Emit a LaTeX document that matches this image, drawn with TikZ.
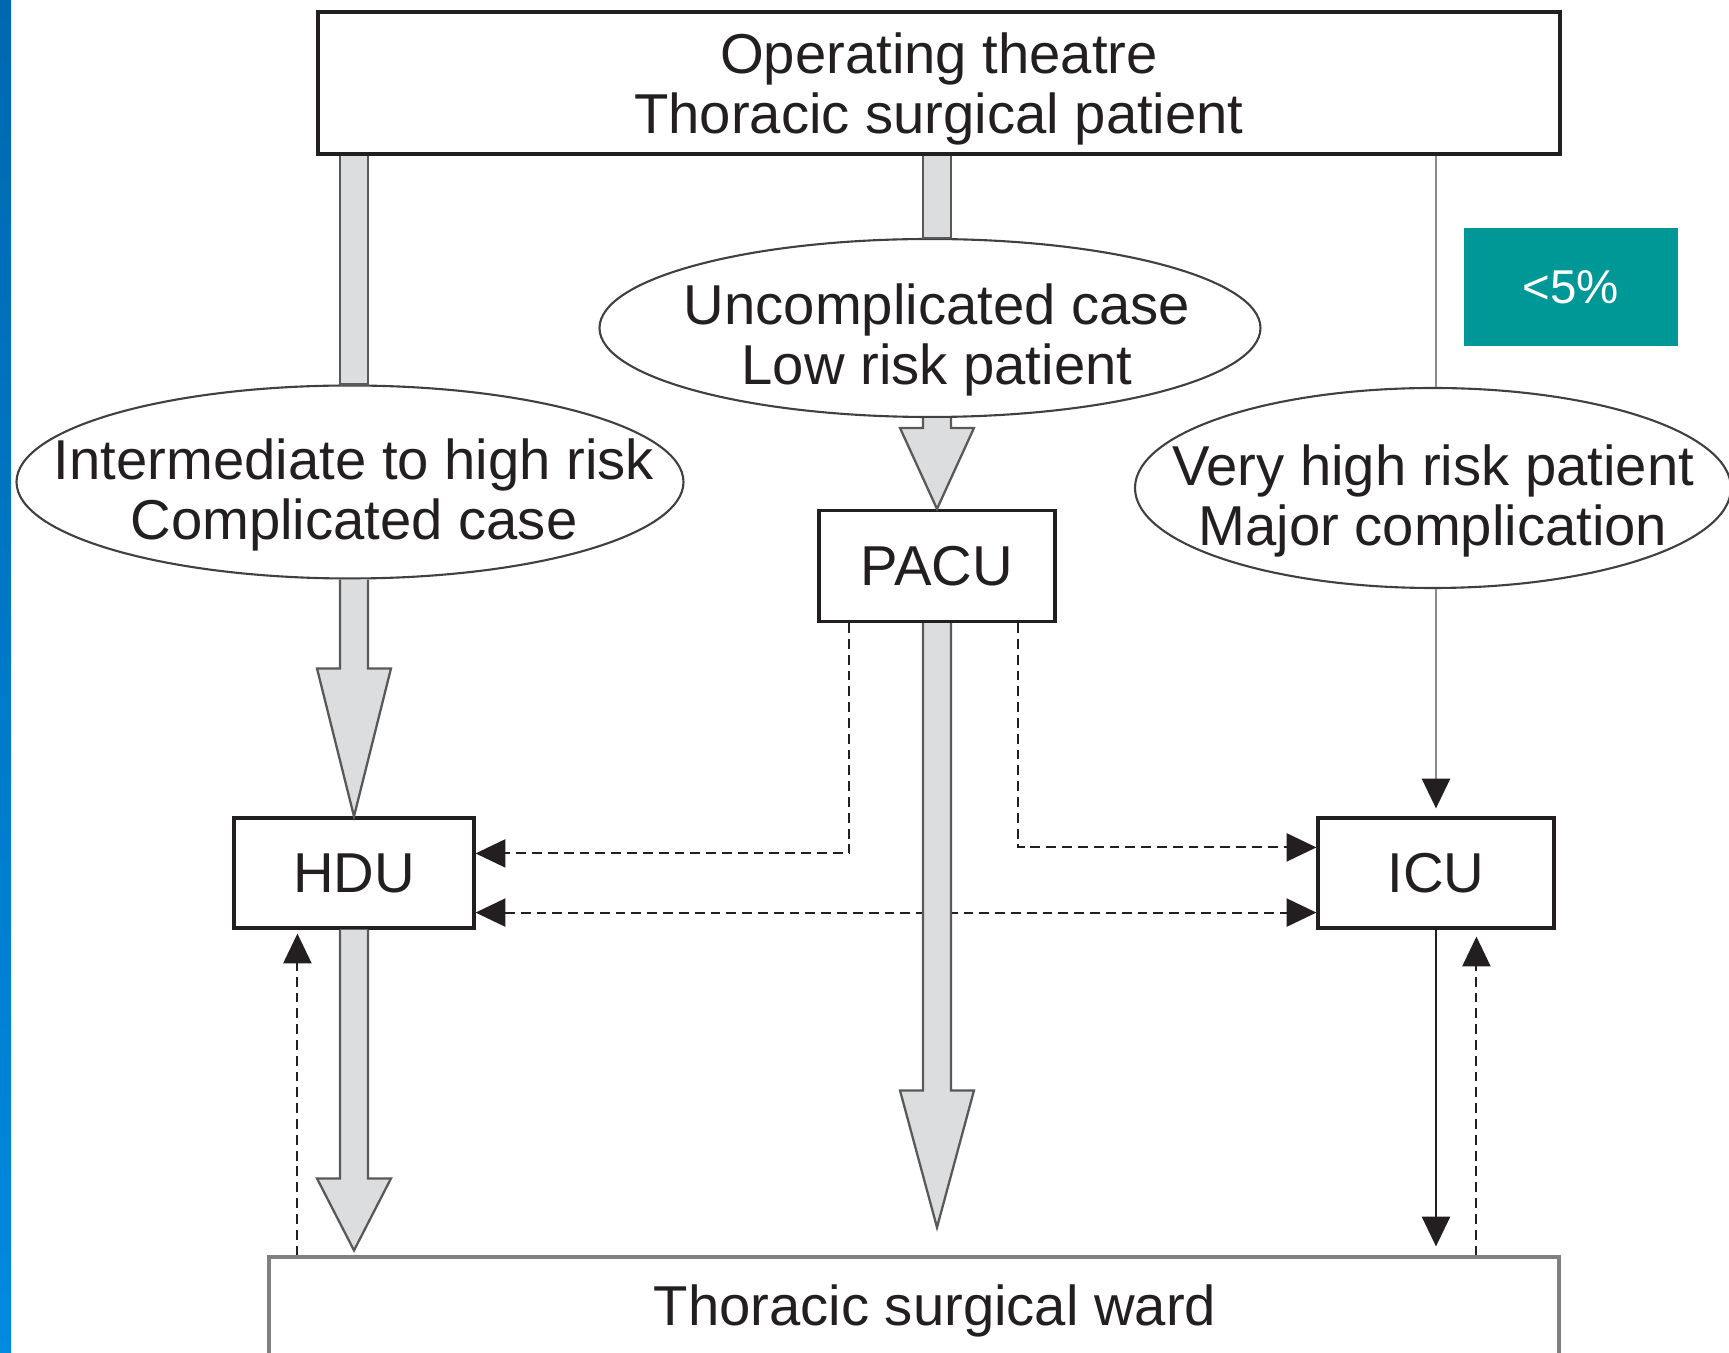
\documentclass[tikz,border=0pt]{standalone}
\usepackage{fontspec}
\setmainfont{Liberation Sans}
\usetikzlibrary{arrows.meta,shapes.geometric,calc}

\definecolor{inkblack}{RGB}{35,31,32}
\definecolor{shaftgray}{RGB}{220,221,222}
\definecolor{tealbox}{RGB}{0,152,150}
\definecolor{barblue}{RGB}{0,104,176}
\definecolor{barbluelow}{RGB}{0,138,224}

\tikzset{
    box/.style={draw=inkblack, line width=0.9pt, inner sep=0pt, align=center},
    oval/.style={ellipse, draw=black!75, line width=0.6pt, inner sep=0pt},
    fat/.style={fill=shaftgray, draw=black!65, line width=0.65pt},
    headarrow/.style={-{Triangle[length=8.5pt, width=8pt, color=inkblack]}},
    dashline/.style={inkblack, line width=0.6pt, dash pattern=on 2.8pt off 1.7pt},
    thinline/.style={black!45, line width=0.7pt},
}

% wide grey arrows, drawn downwards
\newcommand{\fatshaft}[2]{%
    \path[fat] ($(#1)+(-14,0)$) -- ($(#2)+(-14,0)$) -- ($(#2)+(14,0)$) -- ($(#1)+(14,0)$);}
\newcommand{\fatarrow}[3]{%
    \path[fat] ($(#1)+(-14,0)$) -- ($(#2)+(-14,-#3)$) -- ($(#2)+(-37,-#3)$) -- (#2)
        -- ($(#2)+(37,-#3)$) -- ($(#2)+(14,-#3)$) -- ($(#1)+(14,0)$);}

\begin{document}
\begin{tikzpicture}[x=0.1mm, y=-0.1mm, font=\fontsize{16}{17}\selectfont, text=inkblack]
    \useasboundingbox (0,0) rectangle (1729,1353);
    \shade[top color=barblue, bottom color=barbluelow] (0,0) rectangle (11,1353);

    \node[box, minimum width=124.2mm, minimum height=14.2mm] (theatre) at (939,83) {};
    \node[align=center] (theatretext) at ([yshift=-0.6mm]theatre) {Operating theatre\\Thoracic surgical patient};

    \node[box, minimum width=23.6mm, minimum height=11.1mm] (pacu) at (937,566) {PACU};
    \node[box, minimum width=24mm, minimum height=11mm] (hdu) at (354,873) {HDU};
    \node[box, minimum width=23.6mm, minimum height=11mm] (icu) at (1436,873) {ICU};
    \node[box, draw=black!50, minimum width=129mm, minimum height=10.8mm] (ward) at (914,1311) {\hspace*{4.2mm}Thoracic surgical ward};

    \node[oval, minimum width=66.7mm, minimum height=19.3mm] (highrisk) at (350,482) {};
    \node[align=center] (highrisktext) at ([yshift=-1.3mm]hdu |- highrisk) {Intermediate to high risk\\Complicated case};
    \node[oval, minimum width=66.1mm, minimum height=17.8mm] (lowrisk) at (930,328) {};
    \node[align=center] (lowrisktext) at ([yshift=-1.2mm]pacu |- lowrisk) {Uncomplicated case\\Low risk patient};
    \node[oval, minimum width=59.6mm, minimum height=20mm] (veryhigh) at (1433,488) {};
    \node[align=center] (veryhightext) at ([yshift=-1.3mm]veryhigh) {Very high risk patient\\Major complication};

    \node[fill=tealbox, text=white, minimum width=21.4mm, minimum height=11.8mm,
          font=\fontsize{13.5}{16}\selectfont] (share) at (1571,287) {<5\%};

    % very high risk path
    \coordinate (icutop) at (icu.north);
    \draw[thinline] (icutop |- theatre.south) -- (icutop |- veryhigh.north);
    \draw[thinline, headarrow, shorten >=0.8mm] (icutop |- veryhigh.south) -- (icutop);

    % transfers
    \draw[dashline, headarrow] ([xshift=3.2mm]pacu.south west) |- ([yshift=-3.7mm]hdu.north east);
    \draw[dashline, headarrow] ([xshift=-3.9mm]pacu.south east) |- ([yshift=-3.1mm]icu.north west);
    \draw[dashline, {Triangle[length=8.5pt, width=8pt, color=inkblack]}-{Triangle[length=8.5pt, width=8pt, color=inkblack]}]
        ([yshift=1.7mm]hdu.south east) -- ([yshift=1.7mm]icu.south west);
    \coordinate (hduup) at ([xshift=6.5mm]hdu.south west);
    \draw[dashline, headarrow] (hduup |- ward.north) -- ([yshift=-0.4mm]hduup);
    \coordinate (icuup) at ([xshift=16mm]icu.south west);
    \draw[dashline, headarrow] (icuup |- ward.north) -- ([yshift=-0.7mm]icuup);
    \draw[inkblack, line width=0.7pt, headarrow, shorten >=0.9mm] (icu.south) -- (icu.south |- ward.north);

    % main flows
    \coordinate (hightop) at (hdu.north |- theatre.south);
    \coordinate (highbot) at (hdu.north |- highrisk.south);
    \coordinate (lowtop) at (pacu.north |- theatre.south);
    \coordinate (lowbot) at (pacu.north |- lowrisk.south);
    \coordinate (pacutip) at ($(pacu.south |- ward.north)+(0,-28)$);
    \coordinate (hdutip) at ($(hdu.south |- ward.north)+(0,-5)$);
    \fatshaft{hightop}{hdu.north |- highrisk.north}
    \fatarrow{highbot}{hdu.north}{148}
    \fatshaft{lowtop}{pacu.north |- lowrisk.north}
    \fatarrow{lowbot}{pacu.north}{81}
    \fatarrow{pacu.south}{pacutip}{137}
    \fatarrow{hdu.south}{hdutip}{72}
\end{tikzpicture}
\end{document}
